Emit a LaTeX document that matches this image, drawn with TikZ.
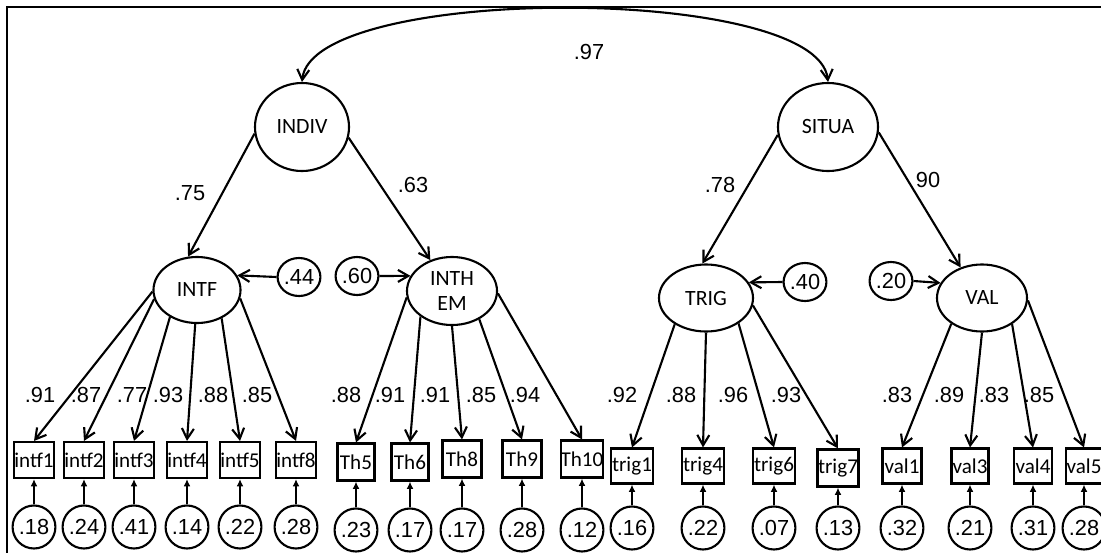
\documentclass[tikz,border=0pt]{standalone}
\usepackage{fontspec}
\setmainfont{Liberation Sans}
\newfontfamily\calib{Carlito}
\usetikzlibrary{arrows.meta,shapes.geometric}

\begin{document}
\begin{tikzpicture}[x=0.025cm, y=-0.025cm,
  font=\fontsize{15.5}{17}\selectfont,
  lat/.style={draw, ellipse, line width=1.5pt, inner sep=0pt, align=center,
    font=\calib\fontsize{15.5}{18}\selectfont},
  obs/.style={draw, rectangle, line width=1.5pt, inner sep=0pt,
    minimum width=0.9cm, minimum height=0.9cm, font=\calib\fontsize{15}{16}\selectfont},
  res/.style={draw, ellipse, line width=1.5pt, inner sep=0pt,
    minimum width=0.925cm, minimum height=1.075cm},
  dst/.style={draw, ellipse, line width=1.5pt, inner sep=0pt,
    minimum width=1cm, minimum height=0.95cm},
  arr/.style={-{Straight Barb[length=2.6mm, width=3mm]}, line width=1.5pt},
  err/.style={-{Latex[length=1.8mm, width=1.7mm]}, line width=1.5pt},
  wt/.style={inner sep=0pt}]
\useasboundingbox (0,0) rectangle (1101,553);
% ---- frame (cut at right and bottom) ----
\draw[line width=1.8pt] (7,553) -- (7,7) -- (1101,7);
% ---- second-order factors ----
\node[lat, minimum width=2.35cm, minimum height=2.2cm] (indiv) at (302,127) {INDIV};
\node[lat, minimum width=2.5cm, minimum height=2.2cm] (situa) at (828,127) {SITUA};
\draw[{Straight Barb[length=2.6mm, width=3mm]}-{Straight Barb[length=2.6mm, width=3mm]}, line width=1.5pt]
  (indiv.north) .. controls (312,-16) and (818,-16) .. (situa.north);
\node[wt] (r97) at (589,52) {.97};
% ---- first-order factors ----
\node[lat, minimum width=2.175cm, minimum height=1.65cm] (intf) at (197,290) {INTF};
\node[lat, minimum width=2.25cm, minimum height=1.7cm] (inthem) at (452,291) {INTH\\EM};
\node[lat, minimum width=2.35cm, minimum height=1.675cm] (trig) at (706,298) {TRIG};
\node[lat, minimum width=2.25cm, minimum height=1.675cm] (val) at (982,298) {VAL};
\draw[arr] (indiv.188) -- (intf.105);
\draw[arr] (indiv.347) -- (inthem.125);
\draw[arr] (situa.189) -- (trig.96);
\draw[arr] (situa.354) -- (val.125);
\node[wt] (g75) at (190,193) {.75};
\node[wt] (g63) at (413,185) {.63};
\node[wt] (g78) at (720,185) {.78};
\node[wt] (g90) at (928,180) {90};
% disturbances
\node[dst] (d44) at (299,277) {.44};
\node[dst] (d60) at (357,276) {.60};
\node[dst] (d40) at (805,282) {.40};
\node[dst] (d20) at (891,281) {.20};
\draw[arr] (d44.west) -- (intf.20);
\draw[arr] (d60.east) -- (inthem.160);
\draw[arr] (d40.west) -- (trig.20);
\draw[arr] (d20.east) -- (val.160);
% ---- INTF items ----
\node[obs] (intf1) at (34,460) {intf1};
\node[obs] (intf2) at (84,460) {intf2};
\node[obs] (intf3) at (134,460) {intf3};
\node[obs] (intf4) at (187,460) {intf4};
\node[obs] (intf5) at (240,460) {intf5};
\node[obs] (intf8) at (296,460) {intf8};
\draw[arr] (intf.182) -- (intf1.north);
\draw[arr] (intf.192) -- (intf2.north);
\draw[arr] (intf.225) -- (intf3.north);
\draw[arr] (intf.267) -- (intf4.north);
\draw[arr] (intf.311) -- (intf5.north);
\draw[arr] (intf.349) -- (intf8.north);
\node[wt] (l91) at (40,395) {.91};
\node[wt] (l87) at (86,395) {.87};
\node[wt] (l77) at (132,395) {.77};
\node[wt] (l93) at (168,395) {.93};
\node[wt] (l88) at (213,395) {.88};
\node[wt] (l85) at (257,395) {.85};
\node[res] (e18) at (34,527) {.18};
\node[res] (e24) at (84,527) {.24};
\node[res] (e41) at (134,527) {.41};
\node[res] (e14) at (187,527) {.14};
\node[res] (e22) at (240,527) {.22};
\node[res] (e28) at (296,527) {.28};
\draw[err] (e18) -- (intf1); \draw[err] (e24) -- (intf2); \draw[err] (e41) -- (intf3);
\draw[err] (e14) -- (intf4); \draw[err] (e22) -- (intf5); \draw[err] (e28) -- (intf8);
% ---- INTHEM items ----
\node[obs, minimum width=0.925cm, minimum height=0.925cm] (th5) at (356,462) {Th5};
\node[obs, minimum width=0.925cm, minimum height=0.925cm] (th6) at (410,462) {Th6};
\node[obs, minimum width=0.975cm, minimum height=0.925cm] (th8) at (462,459) {Th8};
\node[obs, minimum width=0.975cm, minimum height=0.925cm] (th9) at (522,459) {Th9};
\node[obs, minimum width=0.975cm, minimum height=0.925cm] (th10) at (582,459) {Th10};
\draw[arr] (inthem.188) -- (th5.north);
\draw[arr] (inthem.219) -- (th6.north);
\draw[arr] (inthem.270) -- (th8.north);
\draw[arr] (inthem.314) -- (th9.north);
\draw[arr] (inthem.357) -- (th10.north);
\node[wt] (m88) at (346,395) {.88};
\node[wt] (m91) at (390,395) {.91};
\node[wt] (m91b) at (435,395) {.91};
\node[wt] (m85) at (481,395) {.85};
\node[wt] (m94) at (525,395) {.94};
\node[res] (e23) at (356,530) {.23};
\node[res] (e17) at (410,530) {.17};
\node[res] (e17b) at (462,530) {.17};
\node[res] (e28b) at (522,530) {.28};
\node[res] (e12) at (582,530) {.12};
\draw[err] (e23) -- (th5); \draw[err] (e17) -- (th6); \draw[err] (e17b) -- (th8);
\draw[err] (e28b) -- (th9); \draw[err] (e12) -- (th10);
% ---- TRIG items ----
\node[obs, minimum width=1.05cm, minimum height=0.875cm] (trig1) at (632,466) {trig1};
\node[obs, minimum width=1.05cm, minimum height=0.875cm] (trig4) at (703,466) {trig4};
\node[obs, minimum width=1.05cm, minimum height=0.875cm] (trig6) at (774,466) {trig6};
\node[obs, minimum width=1.025cm, minimum height=0.925cm] (trig7) at (838,468) {trig7};
\draw[arr] (trig.220) -- (trig1.north);
\draw[arr] (trig.270) -- (trig4.north);
\draw[arr] (trig.322) -- (trig6.north);
\draw[arr] (trig.351) -- (trig7.north);
\node[wt] (t92) at (622,395) {.92};
\node[wt] (t88) at (681,395) {.88};
\node[wt] (t96) at (733,395) {.96};
\node[wt] (t93) at (786,395) {.93};
\node[res] (e16) at (632,528) {.16};
\node[res] (e22b) at (703,528) {.22};
\node[res] (e07) at (774,528) {.07};
\node[res] (e13) at (838,528) {.13};
\draw[err] (e16) -- (trig1); \draw[err] (e22b) -- (trig4);
\draw[err] (e07) -- (trig6); \draw[err] (e13) -- (trig7);
% ---- VAL items ----
\node[obs, minimum width=0.975cm, minimum height=0.875cm] (val1) at (902,466) {val1};
\node[obs, minimum width=0.925cm, minimum height=0.875cm] (val3) at (970,466) {val3};
\node[obs, minimum width=0.95cm, minimum height=0.875cm] (val4) at (1033,466) {val4};
\node[obs, minimum width=0.9cm, minimum height=0.875cm] (val5) at (1084,466) {val5};
\draw[arr] (val.220) -- (val1.north);
\draw[arr] (val.270) -- (val3.north);
\draw[arr] (val.319) -- (val4.north);
\draw[arr] (val.357) -- (val5.north);
\node[wt] (v83) at (897,395) {.83};
\node[wt] (v89) at (949,395) {.89};
\node[wt] (v83b) at (994,395) {.83};
\node[wt] (v85) at (1039,395) {.85};
\node[res] (e32) at (902,528) {.32};
\node[res] (e21) at (970,528) {.21};
\node[res] (e31) at (1033,528) {.31};
\node[res] (e28c) at (1084,528) {.28};
\draw[err] (e32) -- (val1); \draw[err] (e21) -- (val3);
\draw[err] (e31) -- (val4); \draw[err] (e28c) -- (val5);
\end{tikzpicture}
\end{document}
